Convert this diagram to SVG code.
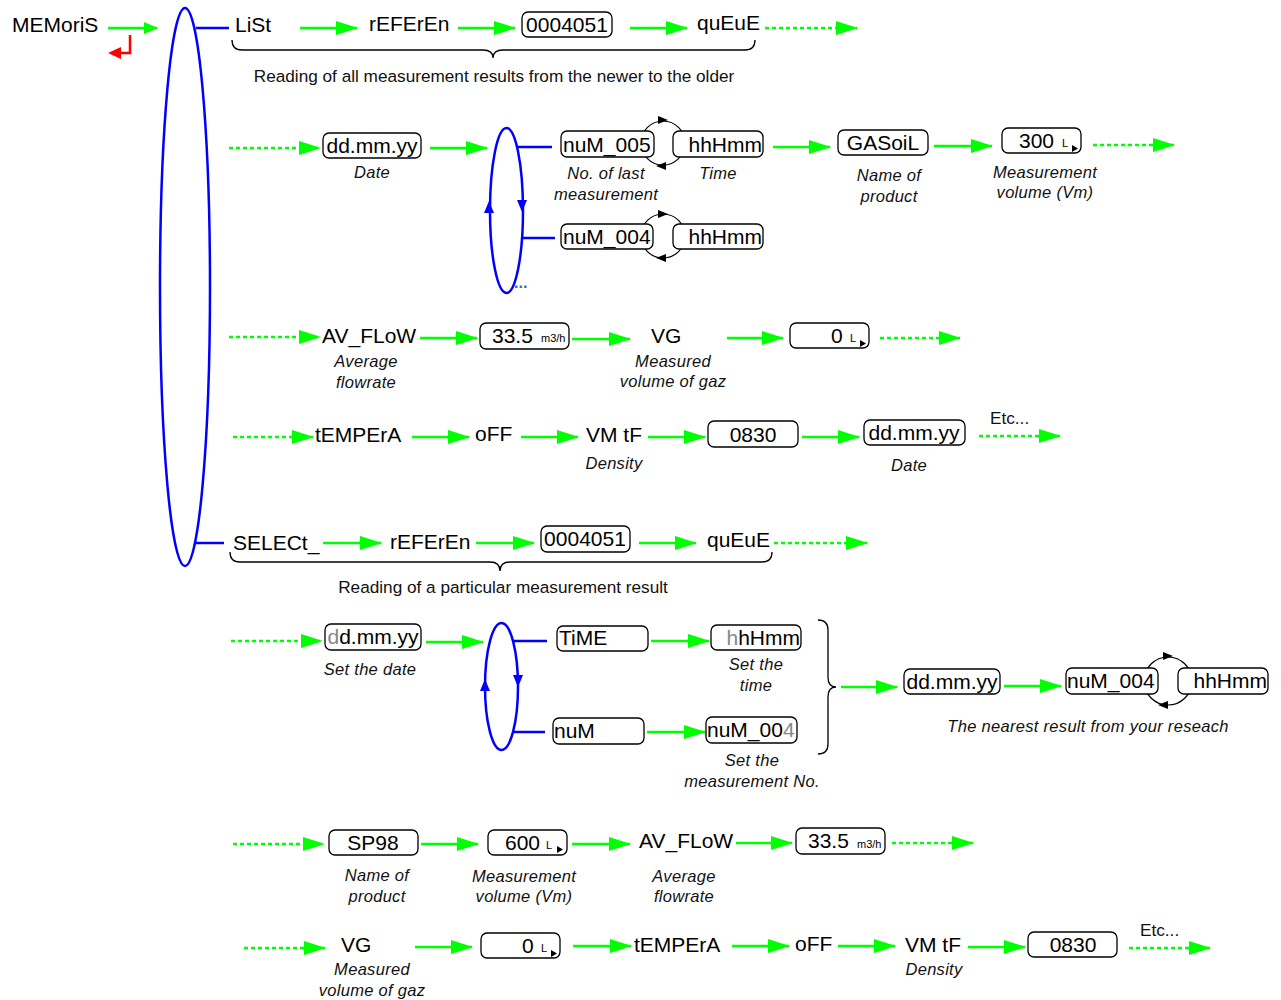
<svg xmlns="http://www.w3.org/2000/svg" width="1281" height="1000" viewBox="0 0 1281 1000">
<defs>
<marker id="ga" markerUnits="userSpaceOnUse" viewBox="0 0 22 14" refX="21" refY="7" markerWidth="22" markerHeight="14" orient="auto"><path d="M0,0 L22,7 L0,14 z" fill="#00ff00"/></marker>
<marker id="gs" markerUnits="userSpaceOnUse" viewBox="0 0 14 12" refX="13" refY="6" markerWidth="14" markerHeight="12" orient="auto"><path d="M0,0 L14,6 L0,12 z" fill="#00ff00"/></marker>
<style>
text{font-family:"Liberation Sans",Arial,sans-serif;fill:#000}
.t{font-size:21px}
.c{font-size:16.5px;font-style:italic;fill:#111;text-anchor:middle;letter-spacing:0.3px}
.n{font-size:17.2px;fill:#111}
.s{font-size:11px}
.m{text-anchor:middle}
.e{text-anchor:end}
.g{fill:#888}
.box{fill:#fff;stroke:#000;stroke-width:1.3}
.ar{stroke:#00ff00;stroke-width:2.5;fill:none;marker-end:url(#ga)}
.dt{stroke-dasharray:4 3}
.bl{stroke:#0000ff;stroke-width:2.5;fill:none}
.bf{fill:#0000ff}
.br{fill:none;stroke:#000;stroke-width:1.3}
.cir{fill:none;stroke:#000;stroke-width:1.2}
</style>
</defs>
<rect width="1281" height="1000" fill="#fff"/>

<g id="connectors">
<path d="M108,28H157" stroke="#00ff00" stroke-width="2.5" fill="none" marker-end="url(#gs)"/>
<path class="ar" d="M300,28H357"/>
<path class="ar" d="M458,28H515"/>
<path class="ar" d="M630,28H687"/>
<path class="ar dt" d="M765,28H857"/>
<path class="ar dt" d="M229,148H320"/>
<path class="ar" d="M430,148H487"/>
<path class="ar" d="M773,147H830"/>
<path class="ar" d="M934,146H992"/>
<path class="ar dt" d="M1093,145H1174"/>
<path class="ar dt" d="M229,337H320"/>
<path class="ar" d="M420,338H477"/>
<path class="ar" d="M572,339H630"/>
<path class="ar" d="M727,338H783"/>
<path class="ar dt" d="M880,338H960"/>
<path class="ar dt" d="M233,437H313"/>
<path class="ar" d="M412,437H469"/>
<path class="ar" d="M521,437H578"/>
<path class="ar" d="M648,437H705"/>
<path class="ar" d="M802,437H859"/>
<path class="ar dt" d="M979,436H1060"/>
<path class="ar" d="M323,543H381"/>
<path class="ar" d="M476,543H534"/>
<path class="ar" d="M639,543H696"/>
<path class="ar dt" d="M774,543H867"/>
<path class="ar dt" d="M231,641H322"/>
<path class="ar" d="M426,642H483"/>
<path class="ar" d="M651,641H709"/>
<path class="ar" d="M647,732H705"/>
<path class="ar" d="M841,687H897"/>
<path class="ar" d="M1004,686H1061"/>
<path class="ar dt" d="M233,844H324"/>
<path class="ar" d="M421,844H478"/>
<path class="ar" d="M572,844H630"/>
<path class="ar" d="M736,843H792"/>
<path class="ar dt" d="M892,843H973"/>
<path class="ar dt" d="M244,948H325"/>
<path class="ar" d="M415,947H472"/>
<path class="ar" d="M573,946H631"/>
<path class="ar" d="M732,946H789"/>
<path class="ar" d="M838,946H895"/>
<path class="ar" d="M968,947H1025"/>
<path class="ar dt" d="M1129,948H1210"/>
<path class="bl" d="M196,28H229"/>
<path class="bl" d="M196,543H224"/>
<path class="bl" d="M518,147H552"/>
<path class="bl" d="M523,238H555"/>
<path class="bl" d="M514,641H547"/>
<path class="bl" d="M514,732H545"/>
<path d="M130,35V53H120" fill="none" stroke="#ff0000" stroke-width="2.5"/>
<path d="M108,53L121,47L121,59z" fill="#ff0000"/>
</g>

<g id="memoris"><text class="t" x="12" y="32">MEMoriS</text></g>

<g id="main-loop"><ellipse class="bl" cx="185" cy="287" rx="25" ry="279"/></g>

<g id="list-row">
<text class="t" x="235" y="32">LiSt</text>
<text class="t" x="369" y="31">rEFErEn</text>
<rect class="box" x="522" y="12" width="90" height="25" rx="6"/>
<text class="t m" x="567" y="32">0004051</text>
<text class="t" x="697" y="30">quEuE</text>
<path class="br" d="M232,40Q232,50 242,50L483,50Q493,50 493,58Q493,50 503,50L745,50Q755,50 755,40"/>
<text class="n m" x="494" y="82">Reading of all measurement results from the newer to the older</text>
</g>

<g id="date1">
<rect class="box" x="323" y="133" width="98" height="25" rx="6"/>
<text class="t m" x="372" y="153">dd.mm.yy</text>
<text class="c" x="372" y="178">Date</text>
</g>

<g id="loop1">
<ellipse class="bl" cx="506.5" cy="210.5" rx="16.5" ry="82.5"/>
<path class="bf" d="M517,200L527,200L522,212z"/>
<path class="bf" d="M484,213L494,213L489,201z"/>
<text x="514" y="288" style="font-size:16px;fill:#2a6ebb;font-weight:bold">...</text>
</g>

<g id="num005">
<circle class="cir" cx="663" cy="143" r="22"/>
<path d="M658,116L668,120L658,124z"/>
<path d="M666,162L656,166L666,170z"/>
<rect class="box" x="561" y="131" width="93" height="26" rx="6"/>
<text class="t" x="563" y="152">nuM_005</text>
<rect class="box" x="673" y="131" width="90" height="26" rx="6"/>
<text class="t e" x="762" y="152">hhHmm</text>
<text class="c" x="606" y="179">No. of last</text>
<text class="c" x="606" y="200">measurement</text>
<text class="c" x="718" y="179">Time</text>
</g>

<g id="num004">
<circle class="cir" cx="663" cy="236" r="22"/>
<path d="M658,210L668,214L658,218z"/>
<path d="M666,254L656,258L666,262z"/>
<rect class="box" x="561" y="224" width="92" height="25" rx="6"/>
<text class="t" x="563" y="244">nuM_004</text>
<rect class="box" x="673" y="224" width="90" height="25" rx="6"/>
<text class="t e" x="762" y="244">hhHmm</text>
</g>

<g id="gasoil">
<rect class="box" x="838" y="130" width="90" height="25" rx="6"/>
<text class="t m" x="883" y="150">GASoiL</text>
<text class="c" x="889" y="181">Name of</text>
<text class="c" x="889" y="202">product</text>
</g>

<g id="vol300">
<rect class="box" x="1002" y="128" width="79" height="25" rx="6"/>
<text class="t" x="1019" y="148">300</text>
<text class="s" x="1062" y="147">L</text>
<path d="M1072,145L1078,148.5L1072,152z"/>
<text class="c" x="1045" y="178">Measurement</text>
<text class="c" x="1045" y="198">volume (Vm)</text>
</g>

<g id="avflow1">
<text class="t" x="322" y="343">AV_FLoW</text>
<text class="c" x="366" y="367">Average</text>
<text class="c" x="366" y="388">flowrate</text>
</g>

<g id="flow1">
<rect class="box" x="480" y="323" width="89" height="26" rx="6"/>
<text class="t" x="492" y="343">33.5</text>
<text class="s" x="541" y="342">m3/h</text>
</g>

<g id="vg1">
<text class="t" x="651" y="343">VG</text>
<text class="c" x="673" y="367">Measured</text>
<text class="c" x="673" y="387">volume of gaz</text>
</g>

<g id="vol0a">
<rect class="box" x="790" y="323" width="79" height="25" rx="6"/>
<text class="t" x="831" y="343">0</text>
<text class="s" x="850" y="342">L</text>
<path d="M860,340L866,343.5L860,347z"/>
</g>

<g id="row4">
<text class="t" x="315" y="442">tEMPErA</text>
<text class="t" x="475" y="441">oFF</text>
<text class="t" x="586" y="442">VM tF</text>
<text class="c" x="614" y="469">Density</text>
<rect class="box" x="708" y="421" width="90" height="26" rx="6"/>
<text class="t m" x="753" y="442">0830</text>
<rect class="box" x="864" y="420" width="101" height="25" rx="6"/>
<text class="t m" x="914" y="440">dd.mm.yy</text>
<text class="c" x="909" y="471">Date</text>
<text class="n" x="990" y="424">Etc...</text>
</g>

<g id="select-row">
<text class="t" x="233" y="550">SELECt_</text>
<text class="t" x="390" y="549">rEFErEn</text>
<rect class="box" x="541" y="526" width="89" height="26" rx="6"/>
<text class="t m" x="585" y="546">0004051</text>
<text class="t" x="707" y="547">quEuE</text>
<path class="br" d="M230,552Q230,562 240,562L490,562Q500,562 500,571Q500,562 510,562L762,562Q772,562 772,552"/>
<text class="n m" x="503" y="593">Reading of a particular measurement result</text>
</g>

<g id="setdate">
<rect class="box" x="325" y="624" width="96" height="26" rx="6"/>
<text class="t m" x="373" y="644"><tspan class="g">d</tspan>d.mm.yy</text>
<text class="c" x="370" y="675">Set the date</text>
</g>

<g id="loop2">
<ellipse class="bl" cx="501.5" cy="686.5" rx="16.5" ry="63.5"/>
<path class="bf" d="M513,675L523,675L518,687z"/>
<path class="bf" d="M480,691L490,691L485,679z"/>
</g>

<g id="time-sel">
<rect class="box" x="557" y="626" width="91" height="25" rx="6"/>
<text class="t" x="559" y="645">TiME</text>
<rect class="box" x="711" y="625" width="90" height="25" rx="6"/>
<text class="t e" x="800" y="645"><tspan class="g">h</tspan>hHmm</text>
<text class="c" x="756" y="670">Set the</text>
<text class="c" x="756" y="691">time</text>
</g>

<g id="num-sel">
<rect class="box" x="553" y="718" width="91" height="26" rx="6"/>
<text class="t" x="554" y="738">nuM</text>
<rect class="box" x="706" y="717" width="91" height="26" rx="6"/>
<text class="t" x="707" y="737">nuM_00<tspan class="g">4</tspan></text>
<text class="c" x="752" y="766">Set the</text>
<text class="c" x="752" y="787">measurement No.</text>
</g>

<g id="brace-right"><path class="br" d="M818,620Q828,620 828,630L828,677Q828,687 836,687Q828,687 828,697L828,744Q828,754 818,754"/></g>

<g id="nearest">
<circle class="cir" cx="1168" cy="681" r="24"/>
<path d="M1163,652L1173,656L1163,660z"/>
<path d="M1168,701L1158,705L1168,709z"/>
<rect class="box" x="904" y="669" width="96" height="25" rx="6"/>
<text class="t m" x="952" y="689">dd.mm.yy</text>
<rect class="box" x="1066" y="668" width="92" height="26" rx="6"/>
<text class="t" x="1067" y="688">nuM_004</text>
<rect class="box" x="1178" y="668" width="90" height="26" rx="6"/>
<text class="t e" x="1267" y="688">hhHmm</text>
<text class="c" x="1088" y="732">The nearest result from your reseach</text>
</g>

<g id="row7">
<rect class="box" x="329" y="830" width="89" height="25" rx="6"/>
<text class="t m" x="373" y="850">SP98</text>
<text class="c" x="377" y="881">Name of</text>
<text class="c" x="377" y="902">product</text>
<rect class="box" x="488" y="830" width="79" height="25" rx="6"/>
<text class="t" x="505" y="850">600</text>
<text class="s" x="546" y="849">L</text>
<path d="M557,846L563,849.5L557,853z"/>
<text class="c" x="524" y="882">Measurement</text>
<text class="c" x="524" y="902">volume (Vm)</text>
<text class="t" x="639" y="848">AV_FLoW</text>
<text class="c" x="684" y="882">Average</text>
<text class="c" x="684" y="902">flowrate</text>
<rect class="box" x="796" y="828" width="89" height="26" rx="6"/>
<text class="t" x="808" y="848">33.5</text>
<text class="s" x="857" y="848">m3/h</text>
</g>

<g id="row8">
<text class="t" x="341" y="952">VG</text>
<text class="c" x="372" y="975">Measured</text>
<text class="c" x="372" y="996">volume of gaz</text>
<rect class="box" x="481" y="933" width="79" height="25" rx="6"/>
<text class="t" x="522" y="953">0</text>
<text class="s" x="541" y="952">L</text>
<path d="M551,950L557,953.5L551,957z"/>
<text class="t" x="634" y="952">tEMPErA</text>
<text class="t" x="795" y="951">oFF</text>
<text class="t" x="905" y="952">VM tF</text>
<text class="c" x="934" y="975">Density</text>
<rect class="box" x="1028" y="932" width="89" height="25" rx="6"/>
<text class="t m" x="1073" y="952">0830</text>
<text class="n" x="1140" y="936">Etc...</text>
</g>
</svg>
